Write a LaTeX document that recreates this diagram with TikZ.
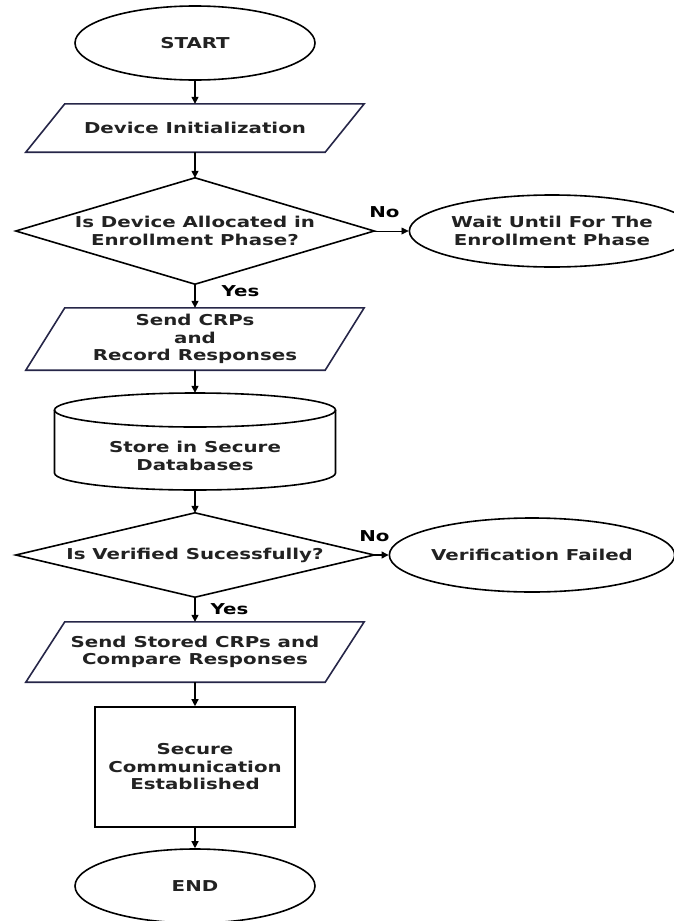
\documentclass[tikz,border=0pt]{standalone}
\usepackage{fontspec}
\newfontfamily\flowfont[FakeStretch=1.32]{DejaVu Sans Bold}
\usetikzlibrary{shapes.geometric, arrows.meta}
\definecolor{navy}{RGB}{38,38,72}
\definecolor{ink}{RGB}{34,34,34}
\begin{document}
\begin{tikzpicture}[x=1pt, y=-1pt,
  txt/.style={font=\flowfont\fontsize{15}{17.5}\selectfont, text=ink, align=center, inner sep=0pt},
  lbl/.style={font=\flowfont\fontsize{15}{17.5}\selectfont, text=black, inner sep=0pt},
  term/.style={txt, ellipse, draw=black, line width=1.6pt},
  box/.style={txt},
  shp/.style={draw=black, line width=1.6pt, line join=miter},
  iobox/.style={draw=navy, line width=1.6pt, line join=miter},
  arr/.style={draw=black, line width=1.3pt, -{Triangle[length=7pt, width=7pt]}},
  arrthin/.style={draw=black, line width=0.8pt, -{Triangle[length=7pt, width=7pt]}}
]
\useasboundingbox (0,0) rectangle (673,921);
\fill[white] (0,0) rectangle (673,921);

% START
\node[term, minimum width=240pt, minimum height=74pt] (start) at (195,43) {START};

% Device Initialization
\node[box, minimum width=338pt, minimum height=48pt] (init) at (195,128) {Device Initialization};
\draw[iobox] ([xshift=39pt]init.north west) -- (init.north east) -- ([xshift=-39pt]init.south east) -- (init.south west) -- cycle;

% Decision 1
\node[box, minimum width=358pt, minimum height=106pt] (d1) at (195,231) {Is Device Allocated in\\Enrollment Phase?};
\draw[shp] (d1.north) -- (d1.east) -- (d1.south) -- (d1.west) -- cycle;

% Wait
\node[term, minimum width=234pt, minimum height=72pt] (wait) at (552,231) {Wait Until For The\\Enrollment Phase};

% Send CRPs
\node[box, minimum width=338pt, minimum height=62pt] (crp) at (195,339) {Send CRPs\\and\\Record Responses};
\draw[iobox] ([xshift=39pt]crp.north west) -- (crp.north east) -- ([xshift=-39pt]crp.south east) -- (crp.south west) -- cycle;

% Cylinder
\node[box, minimum width=281pt, minimum height=97pt] (cyl) at (195,441.5) {};
\node[txt] (cyltext) at (195,456) {Store in Secure\\Databases};
\draw[shp] (195,410) ellipse [x radius=140.5pt, y radius=17pt];
\draw[shp] (54.5,410) -- (54.5,473) arc[start angle=180, end angle=360, x radius=140.5pt, y radius=17pt] -- (335.5,410);

% Decision 2
\node[box, minimum width=358pt, minimum height=84pt] (d2) at (195,555) {Is Verified Sucessfully?};
\draw[shp] (d2.north) -- (d2.east) -- (d2.south) -- (d2.west) -- cycle;

% Verification failed
\node[term, minimum width=240pt, minimum height=74pt] (vf) at (532,555) {Verification Failed};

% Send stored CRPs
\node[box, minimum width=338pt, minimum height=60pt] (cmp) at (195,652) {Send Stored CRPs and\\Compare Responses};
\draw[iobox] ([xshift=39pt]cmp.north west) -- (cmp.north east) -- ([xshift=-39pt]cmp.south east) -- (cmp.south west) -- cycle;

% Secure communication
\node[box, draw=black, line width=1.6pt, minimum width=200pt, minimum height=120pt] (sec) at (195,767) {Secure\\Communication\\Established};

% END
\node[term, minimum width=240pt, minimum height=74pt] (stop) at (195,886) {END};

% Connectors
\draw[arr] (start.south) -- (init.north);
\draw[arr] (init.south) -- (d1.north);
\draw[arrthin] (d1.east) -- node[lbl, pos=0.3, above=13pt] (no1) {No} (wait.west);
\draw[arr] (d1.south) -- node[lbl, pos=0.3, right=26pt] (yes1) {Yes} (crp.north);
\draw[arr] (crp.south) -- (cyl.north);
\draw[arr] (cyl.south) -- (d2.north);
\draw[arr] (d2.east) -- node[lbl, pos=0.02, above=12.5pt] (no2) {No} (vf.west);
\draw[arr] (d2.south) -- node[lbl, pos=0.48, right=15pt] (yes2) {Yes} (cmp.north);
\draw[arr] (cmp.south) -- (sec.north);
\draw[arr] (sec.south) -- (stop.north);
\end{tikzpicture}
\end{document}
